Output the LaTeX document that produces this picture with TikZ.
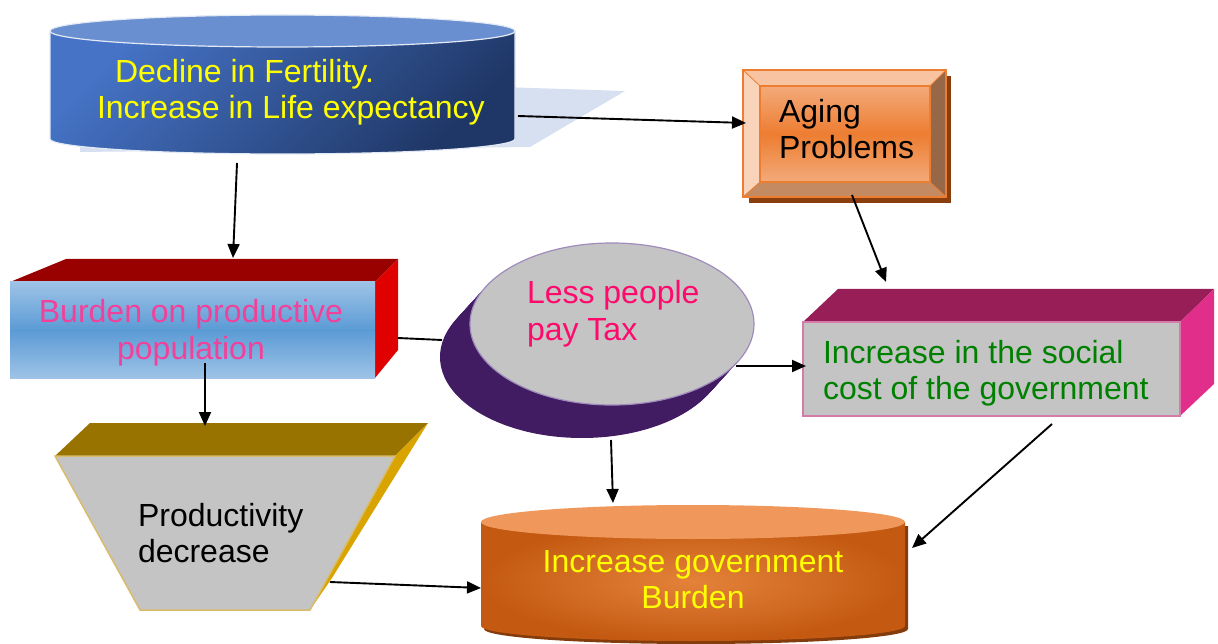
\documentclass[tikz,border=0pt]{standalone}
\usepackage{fontspec}
\setmainfont{Liberation Sans}
\usetikzlibrary{arrows.meta}
\definecolor{cylTop}{HTML}{6A8FD0}
\definecolor{cylA}{HTML}{4673C6}
\definecolor{cylB}{HTML}{1F3766}
\definecolor{cylEdge}{HTML}{E4EAF5}
\definecolor{shadowBlue}{HTML}{D7E0F1}
\definecolor{txtYellow}{HTML}{FFFF00}
\definecolor{agShadow}{HTML}{8A3E0E}
\definecolor{agLine}{HTML}{ED7D31}
\definecolor{agTopBev}{HTML}{F7C3A0}
\definecolor{agLeftBev}{HTML}{FAD3BB}
\definecolor{agRightBev}{HTML}{976848}
\definecolor{agBotBev}{HTML}{C48A62}
\definecolor{agFaceA}{HTML}{F3AA7A}
\definecolor{agFaceB}{HTML}{ED7D31}
\definecolor{buTop}{HTML}{990000}
\definecolor{buRight}{HTML}{E00000}
\definecolor{buLight}{HTML}{9EC3E7}
\definecolor{buMid}{HTML}{5B9BD5}
\definecolor{buText}{HTML}{F2419A}
\definecolor{txGray}{HTML}{C4C4C4}
\definecolor{txEdge}{HTML}{A08CBC}
\definecolor{txPurpleL}{HTML}{62308F}
\definecolor{txPurpleD}{HTML}{421C62}
\definecolor{txText}{HTML}{FF0A6C}
\definecolor{soTop}{HTML}{981E58}
\definecolor{soRight}{HTML}{E02E8A}
\definecolor{soEdge}{HTML}{D47BAA}
\definecolor{soText}{HTML}{008000}
\definecolor{prTop}{HTML}{997300}
\definecolor{prRight}{HTML}{D9A300}
\definecolor{prEdge}{HTML}{D8BC6C}
\definecolor{gvTop}{HTML}{F0985C}
\definecolor{gvIn}{HTML}{E4823A}
\definecolor{gvOut}{HTML}{C45A12}
\definecolor{gvRim}{HTML}{843C0C}
\begin{document}
\begin{tikzpicture}[x=1pt,y=-1pt,
  conn/.style={line width=1.9pt,-{Triangle[length=14pt,width=12pt]}},
  plainconn/.style={line width=1.9pt},
  lbl/.style={inner sep=0pt,outer sep=0pt,font=\fontsize{32}{36}\selectfont}]
\useasboundingbox (0,0) rectangle (1218,644);

% ---- blue cylinder
\fill[shadowBlue] (470,86) -- (625,91) -- (530,147) -- (80,152) -- (80,120) -- cycle;
\shadedraw[top color=cylA,bottom color=cylB,shading angle=45,draw=cylEdge,line width=1.2pt]
  (50,31) -- (50,139) .. controls (50,147.3) and (154.1,154) .. (282.5,154)
  .. controls (410.9,154) and (515,147.3) .. (515,139) -- (515,31) -- cycle;
\filldraw[fill=cylTop,draw=cylEdge,line width=1.2pt] (282.5,31) ellipse [x radius=232.5pt,y radius=16pt];
\node[lbl,text=txtYellow,anchor=north west,align=left] (decline) at (97,57.8)
  {\strut\hspace*{18pt}Decline in Fertility.\\Increase in Life expectancy};

% ---- aging problems
\fill[agShadow] (749,76) rectangle (951,203);
\fill[agTopBev] (743,70) -- (946,70) -- (930,86) -- (760,86) -- cycle;
\fill[agLeftBev] (743,70) -- (760,86) -- (760,182) -- (743,197) -- cycle;
\fill[agRightBev] (946,70) -- (946,197) -- (930,182) -- (930,86) -- cycle;
\fill[agBotBev] (743,197) -- (946,197) -- (930,182) -- (760,182) -- cycle;
\draw[agLine,line width=0.8pt] (743,70) -- (760,86) (946,70) -- (930,86) (946,197) -- (930,182) (743,197) -- (760,182);
\shadedraw[top color=agFaceA,bottom color=agFaceA,middle color=agFaceB,draw=agLine,line width=1.2pt] (760,86) rectangle (930,182);
\draw[agLine,line width=1.5pt] (743,70) rectangle (946,197);
\node[lbl,anchor=north west,align=left] (aging) at (779,97.8) {\strut Aging\\Problems};

% ---- burden on productive population
\fill[buTop] (10,282) -- (66,259) -- (398,259) -- (375,282) -- cycle;
\fill[buRight] (375,282) -- (398,259) -- (398,350) -- (375,378) -- cycle;
\shade[top color=buLight,bottom color=buLight,middle color=buMid] (10,282) rectangle (375,378);
\node[lbl,text=buText,anchor=north,align=center] (burden) at (191,297.8) {\strut Burden on productive\\population};

% ---- less people pay tax
\foreach \t in {0,1,...,30}{
  \pgfmathsetmacro{\mixp}{100-\t*100/30}
  \fill[txPurpleL!\mixp!txPurpleD] (612-\t,324+1.1*\t) ellipse [x radius=142pt,y radius=81pt];
}
\filldraw[fill=txGray,draw=txEdge,line width=1.2pt] (612,324) ellipse [x radius=142pt,y radius=81pt];
\node[lbl,text=txText,anchor=north west,align=left] (tax) at (527,278.8) {\strut Less people\\pay Tax};

% ---- social cost
\fill[soTop] (803,322) -- (838,289) -- (1214,289) -- (1180,322) -- cycle;
\fill[soRight] (1180,322) -- (1214,289) -- (1214,384) -- (1180,416) -- cycle;
\filldraw[fill=txGray,draw=soEdge,line width=1.5pt] (803,322) rectangle (1180,416);
\node[lbl,text=soText,anchor=north west,align=left] (social) at (823,337.8) {\strut Increase in the social\\cost of the government};

% ---- productivity decrease
\fill[prTop] (55,456) -- (90,423) -- (428,423) -- (395,456) -- cycle;
\fill[prRight] (395,456) -- (428,423) -- (332,578) -- (310,610) -- cycle;
\filldraw[fill=txGray,draw=prEdge,line width=1.5pt] (55,456) -- (395,456) -- (310,610) -- (140,610) -- cycle;
\node[lbl,anchor=north west,align=left] (prod) at (138,500.8) {\strut Productivity\\decrease};

% ---- government burden cylinder
\fill[gvRim] (484,526) -- (484,629) .. controls (484,637.3) and (578.9,644) .. (696,644)
  .. controls (813.1,644) and (908,637.3) .. (908,629) -- (908,526) -- cycle;
\shade[inner color=gvIn,outer color=gvOut]
  (481,522) -- (481,626) .. controls (481,634.3) and (575.9,641) .. (693,641)
  .. controls (810.1,641) and (905,634.3) .. (905,626) -- (905,522) -- cycle;
\fill[gvTop] (693,522) ellipse [x radius=212pt,y radius=17pt];
\node[lbl,text=txtYellow,anchor=north,align=center] (govt) at (693,546.8) {\strut Increase government\\Burden};

% ---- connector end points
\coordinate (declineE) at (518,116);
\coordinate (agingW) at (746,123);
\coordinate (declineS) at (237,163);
\coordinate (burdenN) at (233,258);
\coordinate (agingS) at (852,195);
\coordinate (socialN) at (886,282);
\coordinate (burdenE) at (398,338);
\coordinate (taxW) at (442,340);
\coordinate (taxE) at (736,366);
\coordinate (socialW) at (806,366);
\coordinate (burdenS) at (205,363);
\coordinate (prodN) at (205,426);
\coordinate (taxS) at (611,440);
\coordinate (govtN) at (613,503);
\coordinate (socialS) at (1052,424);
\coordinate (govtE) at (912,548);
\coordinate (prodE) at (330,582);
\coordinate (govtW) at (481,588);

\draw[conn] (declineE) -- (agingW);
\draw[conn] (declineS) -- (burdenN);
\draw[conn] (agingS) -- (socialN);
\draw[plainconn] (burdenE) -- (taxW);
\draw[conn] (taxE) -- (socialW);
\draw[conn] (burdenS) -- (prodN);
\draw[conn] (taxS) -- (govtN);
\draw[conn] (socialS) -- (govtE);
\draw[conn] (prodE) -- (govtW);
\end{tikzpicture}
\end{document}
